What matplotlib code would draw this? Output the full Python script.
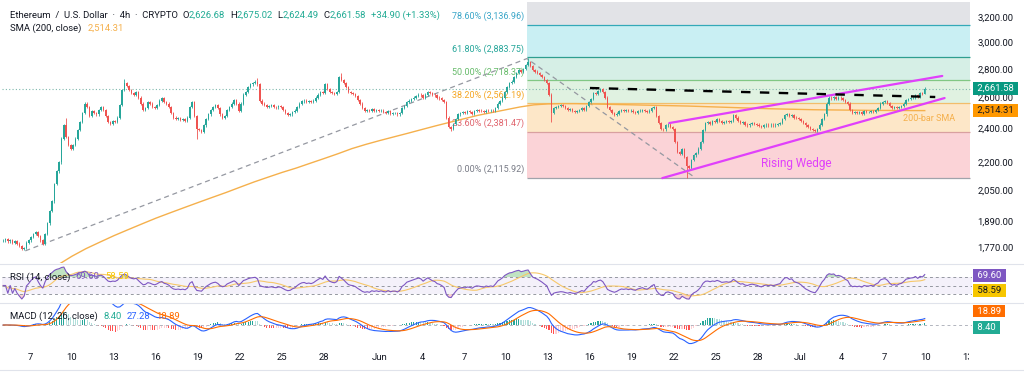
import numpy as np
import pandas as pd
import matplotlib
matplotlib.use("Agg")
from matplotlib import pyplot as plt
import matplotlib.dates as mdates
from matplotlib.lines import Line2D
from matplotlib.ticker import FuncFormatter, NullLocator
from matplotlib.transforms import Bbox, TransformedBbox

plt.rcParams["font.family"] = ["Roboto", "DejaVu Sans"]

# ======================= DATOS (velas de 4h) =======================

# cierres 4h, 6 por dia
closes_may = [
    1800, 1805, 1795, 1800, 1790, 1795,   # 5
    1785, 1775, 1760, 1765, 1790, 1800,   # 6
    1815, 1830, 1838, 1820, 1800, 1785,   # 7
    1830, 1880, 1940, 1990, 2080, 2150,   # 8
    2200, 2340, 2420, 2350, 2300, 2280,   # 9
    2300, 2340, 2390, 2440, 2500, 2560,   # 10
    2540, 2480, 2510, 2500, 2490, 2520,   # 11
    2540, 2520, 2480, 2440, 2430, 2445,   # 12
    2440, 2470, 2550, 2650, 2700, 2680,   # 13
    2650, 2630, 2620, 2640, 2600, 2560,   # 14
    2520, 2530, 2570, 2560, 2540, 2530,   # 15
    2550, 2580, 2597, 2570, 2560, 2540,   # 16
    2500, 2470, 2460, 2465, 2455, 2460,   # 17
    2450, 2470, 2540, 2570, 2480, 2400,   # 18
    2390, 2380, 2420, 2460, 2490, 2520,   # 19
    2540, 2550, 2530, 2490, 2470, 2480,   # 20
    2520, 2540, 2560, 2584, 2560, 2510,   # 21
    2560, 2620, 2640, 2670, 2690, 2700,   # 22
    2710, 2690, 2580, 2560, 2550, 2540,   # 23
    2545, 2550, 2540, 2535, 2545, 2540,   # 24
    2520, 2500, 2486, 2490, 2505, 2515,   # 25
    2540, 2560, 2575, 2580, 2570, 2575,   # 26
    2570, 2580, 2600, 2620, 2640, 2630,   # 27
    2690, 2660, 2640, 2630, 2625, 2640,   # 28
    2740, 2720, 2700, 2670, 2640, 2630,   # 29
    2625, 2610, 2584, 2560, 2530, 2515,   # 30
    2520, 2510, 2525, 2515, 2520, 2510,   # 31
]
closes_jun = [
    2515, 2505, 2500, 2510, 2495, 2500,   # 1
    2500, 2490, 2500, 2530, 2545, 2570,   # 2
    2580, 2590, 2600, 2610, 2620, 2615,   # 3
    2600, 2620, 2640, 2630, 2620, 2615,   # 4
    2600, 2595, 2585, 2570, 2470, 2410,   # 5
    2400, 2430, 2460, 2490, 2500, 2505,   # 6
    2500, 2510, 2505, 2495, 2510, 2518,   # 7
    2515, 2510, 2505, 2515, 2510, 2515,   # 8
    2510, 2530, 2560, 2577, 2600, 2640,   # 9
    2670, 2700, 2710, 2740, 2770, 2790,   # 10
    2780, 2800, 2830, 2850, 2820, 2790,   # 11
    2780, 2770, 2756, 2740, 2720, 2700,   # 12
    2620, 2500, 2530, 2540, 2545, 2550,   # 13
    2545, 2530, 2518, 2525, 2510, 2505,   # 14
    2510, 2520, 2530, 2520, 2545, 2570,   # 15
    2590, 2630, 2625, 2645, 2655, 2640,   # 16
    2600, 2540, 2518, 2500, 2486, 2495,   # 17
    2510, 2520, 2515, 2520, 2510, 2515,   # 18
    2505, 2500, 2510, 2515, 2520, 2510,   # 19
    2505, 2515, 2530, 2540, 2480, 2435,   # 20
    2400, 2395, 2420, 2425, 2410, 2400,   # 21
    2320, 2260, 2250, 2275, 2230, 2180,   # 22
    2170, 2215, 2240, 2255, 2280, 2320,   # 23
    2390, 2435, 2440, 2430, 2445, 2440,   # 24
    2460, 2450, 2435, 2440, 2445, 2440,   # 25
    2450, 2486, 2470, 2450, 2435, 2440,   # 26
    2425, 2420, 2430, 2435, 2430, 2425,   # 27
    2415, 2410, 2420, 2425, 2420, 2425,   # 28
    2420, 2425, 2430, 2435, 2460, 2486,   # 29
    2490, 2480, 2486, 2470, 2465, 2460,   # 30
]
closes_jul = [
    2450, 2435, 2420, 2410, 2398, 2390,   # 1
    2385, 2400, 2425, 2460, 2490, 2560,   # 2
    2600, 2595, 2605, 2590, 2600, 2595,   # 3
    2585, 2570, 2560, 2520, 2500, 2505,   # 4
    2500, 2505, 2495, 2510, 2505, 2505,   # 5
    2510, 2505, 2520, 2530, 2560, 2570,   # 6
    2575, 2565, 2545, 2530, 2535, 2530,   # 7
    2540, 2545, 2560, 2584, 2590, 2597,   # 8
    2600, 2615, 2605, 2630, 2626.68, 2661.58,   # 9
]

# mechas notables
wick_highs = {
    "2025-05-09 12:00": 2470, "2025-05-13 16:00": 2725, "2025-05-23 04:00": 2735,
    "2025-05-29 04:00": 2770, "2025-06-11 12:00": 2880, "2025-07-09 20:00": 2675.02,
}
wick_lows = {
    "2025-05-06 08:00": 1755, "2025-05-18 20:00": 2335, "2025-06-06 00:00": 2385,
    "2025-06-13 04:00": 2440, "2025-06-22 20:00": 2115.92, "2025-07-02 00:00": 2380,
    "2025-07-09 20:00": 2624.49,
}

# SMA 200 a las 00:00 de cada dia (5 may - 9 jul)
sma200_may = [1590, 1615, 1638, 1660, 1690, 1728, 1762, 1792, 1822, 1850, 1878, 1906, 1932, 1958,
              1984, 2010, 2036, 2064, 2092, 2118, 2144, 2168, 2195, 2222, 2250, 2280, 2305]
sma200_jun = [2328, 2350, 2372, 2395, 2418, 2440, 2462, 2484, 2502, 2520, 2538, 2552, 2558, 2560, 2560,
              2558, 2556, 2554, 2552, 2550, 2548, 2546, 2544, 2541, 2538, 2535, 2532, 2529, 2526, 2524]
sma200_jul = [2522, 2520, 2519, 2518, 2517, 2516, 2515.5, 2515, 2514.6]
sma200_last = 2514.31

# Fibonacci
fib_pct = [0.0, 23.6, 38.2, 50.0, 61.8, 78.6]
fib_price = [2115.92, 2381.47, 2562.19, 2718.37, 2883.75, 3136.96]
fib_top = 3360.0
fib_window = ("2025-06-11 12:00", "2025-07-13 04:00")

# dibujos
fib_trend = [("2025-05-06 16:00", 1752), ("2025-06-11 12:00", 2875), ("2025-06-23 12:00", 2115.92)]
wedge_upper = [("2025-06-21 16:00", 2435), ("2025-07-11 04:00", 2749)]
wedge_lower = [("2025-06-21 04:00", 2113), ("2025-07-11 08:00", 2597)]
resistance = [("2025-06-16 00:00", 2665), ("2025-07-10 16:00", 2604)]

price_ticks = [3200, 3000, 2800, 2600, 2400, 2200, 2050, 1890, 1770]
date_ticks = ["2025-05-07", "2025-05-10", "2025-05-13", "2025-05-16", "2025-05-19", "2025-05-22",
              "2025-05-25", "2025-05-28", "2025-06-01", "2025-06-04", "2025-06-07", "2025-06-10",
              "2025-06-13", "2025-06-16", "2025-06-19", "2025-06-22", "2025-06-25", "2025-06-28",
              "2025-07-01", "2025-07-04", "2025-07-07", "2025-07-10", "2025-07-13"]
date_labels = ["7", "10", "13", "16", "19", "22", "25", "28", "Jun", "4", "7", "10",
               "13", "16", "19", "22", "25", "28", "Jul", "4", "7", "10", "13"]

last_open, last_high, last_low, last_close = 2626.68, 2675.02, 2624.49, 2661.58
last_change, last_change_pct = 34.90, 1.33
rsi_last, rsi_ma_last = 69.60, 58.59
macd_hist_last, macd_last, macd_signal_last = 8.40, 27.28, 18.89

# ======================================= COLORES =======================================
UP, DOWN = "#26a69a", "#ef5350"
TXT = "#131722"
TEAL = "#22ab94"
SMA_C = "#f5b04c"
WEDGE = "#e040fb"
band_colors = ["#fbd3d7", "#fde7c8", "#e0f2e1", "#d6efe6", "#c9eff3", "#e2e3e7"]
line_colors = ["#a0a3ab", "#d9a0a0", "#f2bd6b", "#81c784", "#2e9e8f", "#33a9b8"]
label_colors = ["#787b86", "#e0636c", "#f5a623", "#66bb6a", "#26a69a", "#3aa6c8"]

W, H = 1024, 373
FS = 6.8


def rect(top_px, bot_px):
    return [2 / W, 1 - bot_px / H, 970 / W, (bot_px - top_px) / H]


def dn(s):
    return mdates.date2num(pd.Timestamp(s))


def cadena(ax, x, y, partes, size=FS):
    texto, color, _ = partes[0]
    prev = ax.text(x, y, texto, transform=ax.transAxes, color=color, fontsize=size,
                   va="center", ha="left")
    for texto, color, gap in partes[1:]:
        prev = ax.annotate(texto, xy=(1, 0.5), xycoords=prev, xytext=(gap, 0),
                           textcoords="offset points", color=color, fontsize=size,
                           va="center", ha="left")
    return prev


def etiqueta(ax, y, txt, fc, tc, dy=0):
    ax.annotate(f" {txt} ", xy=(1, y), xycoords=ax.get_yaxis_transform(), xytext=(2.2, dy),
                textcoords="offset points", ha="left", va="center", fontsize=FS, color=tc,
                bbox=dict(boxstyle="square,pad=0.2", fc=fc, ec="none"), annotation_clip=False)


# ======================================= SERIES ========================================
closes = np.array(closes_may + closes_jun + closes_jul, dtype=float)
times = pd.date_range("2025-05-05 00:00", periods=len(closes), freq="4h")
xc = mdates.date2num(times + pd.Timedelta(hours=2))
opens = np.r_[closes[0], closes[:-1]]
WICK = 0.003
highs = np.maximum(opens, closes) * (1 + WICK)
lows = np.minimum(opens, closes) * (1 - WICK)
for k, v in wick_highs.items():
    highs[times.get_loc(pd.Timestamp(k))] = v
for k, v in wick_lows.items():
    lows[times.get_loc(pd.Timestamp(k))] = v

sma_vals = sma200_may + sma200_jun + sma200_jul + [sma200_last]
sma_x = list(mdates.date2num(pd.date_range("2025-05-05", periods=len(sma_vals) - 1, freq="D")))
sma_x.append(xc[-1])

s = pd.Series(closes)
delta = s.diff().fillna(0)
avg_up = delta.clip(lower=0).ewm(alpha=1 / 14, adjust=False).mean()
avg_dn = (-delta.clip(upper=0)).ewm(alpha=1 / 14, adjust=False).mean()
rsi = (100 - 100 / (1 + avg_up / avg_dn.replace(0, np.nan))).fillna(50).values
rsi_ma = pd.Series(rsi).rolling(14, min_periods=1).mean().values

macd = (s.ewm(span=12, adjust=False).mean() - s.ewm(span=26, adjust=False).mean()).values
signal = pd.Series(macd).ewm(span=9, adjust=False).mean().values
hist = macd - signal
prev_hist = np.r_[0, hist[:-1]]
hist_colors = np.where(hist >= 0, np.where(hist >= prev_hist, "#26a69a", "#b2dfdb"),
                       np.where(hist < prev_hist, "#ff5252", "#ffcdd2"))

# ======================================= FIGURA ========================================
fig = plt.figure(figsize=(W / 100, H / 100), dpi=100, facecolor="white")
axp = fig.add_axes(rect(2, 263))
axr = fig.add_axes(rect(264, 302), sharex=axp)
axm = fig.add_axes(rect(304, 346), sharex=axp)

for ax in (axp, axr, axm):
    for sp in ax.spines.values():
        sp.set_visible(False)
    ax.set_facecolor("white")

x0, x1 = dn("2025-05-05 00:00"), dn("2025-07-13 07:00")
axp.set_xlim(x0, x1)

# --- precio ---
axp.set_yscale("log")
axp.set_ylim(1698, 3326)

fx0, fx1 = dn(fib_window[0]), dn(fib_window[1])
levels = fib_price + [fib_top]
for i in range(len(fib_price)):
    axp.fill_between([fx0, fx1], levels[i], levels[i + 1], color=band_colors[i], lw=0, zorder=0)
    axp.hlines(fib_price[i], fx0, fx1, color=line_colors[i], lw=0.9, zorder=1)
    axp.annotate(f"{fib_pct[i]:.2f}% ({fib_price[i]:,.2f})", xy=(fx0, fib_price[i]),
                 xytext=(-2, 2.5), textcoords="offset points", ha="right", va="bottom",
                 fontsize=6.5, color=label_colors[i], zorder=2)

tx = [dn(t) for t, _ in fib_trend]
ty = [p for _, p in fib_trend]
axp.plot(tx, ty, color="#9598a1", lw=0.9, dashes=(4, 3), zorder=2)

axp.axhline(last_close, color="#7fb8ad", lw=0.8, ls=(0, (1, 2)), zorder=2)
axp.plot(sma_x, sma_vals, color=SMA_C, lw=1.0, zorder=3)

cols = np.where(closes >= opens, UP, DOWN)
axp.vlines(xc, lows, highs, colors=cols, lw=0.6, zorder=4)
axp.bar(xc, np.maximum(np.abs(closes - opens), 2.0), bottom=np.minimum(opens, closes),
        width=0.1, color=cols, lw=0, zorder=5)

for linea in (wedge_upper, wedge_lower):
    axp.plot([dn(t) for t, _ in linea], [p for _, p in linea], color=WEDGE, lw=1.6,
             solid_capstyle="round", zorder=6)
axp.plot([dn(t) for t, _ in resistance], [p for _, p in resistance], color="black", lw=1.7,
         dashes=(4, 4), zorder=6)
axp.text(dn("2025-06-30 18:00"), 2195, "Rising Wedge", color=WEDGE, fontsize=8.5,
         ha="center", va="center", zorder=7)
axp.text(dn("2025-07-10 06:00"), 2462, "200-bar SMA", color=SMA_C, fontsize=6.5,
         ha="center", va="center", zorder=7)

axp.yaxis.tick_right()
axp.yaxis.set_minor_locator(NullLocator())
axp.set_yticks(price_ticks)
axp.yaxis.set_major_formatter(FuncFormatter(lambda v, p: f"{v:,.2f}"))
axp.tick_params(axis="y", length=0, pad=4, labelsize=FS, labelcolor=TXT)
axp.tick_params(axis="x", bottom=False, labelbottom=False)

etiqueta(axp, last_close, f"{last_close:,.2f}", "#089981", "white")
etiqueta(axp, sma200_last, f"{sma200_last:,.2f}", "#ff9800", TXT)

cadena(axp, 0.008, 0.950, [
    ("Ethereum  /  U.S. Dollar  ·  4h  ·  CRYPTO", TXT, 0),
    ("O", TXT, 3.5), (f"{last_open:,.2f}", TEAL, 0),
    ("H", TXT, 3.5), (f"{last_high:,.2f}", TEAL, 0),
    ("L", TXT, 3.5), (f"{last_low:,.2f}", TEAL, 0),
    ("C", TXT, 3.5), (f"{last_close:,.2f}", TEAL, 0),
    (f"+{last_change:.2f} (+{last_change_pct:.2f}%)", TEAL, 3.5),
])
cadena(axp, 0.008, 0.900, [("SMA (200, close)", TXT, 0), (f"{sma200_last:,.2f}", SMA_C, 5)])

# --- RSI ---
axr.set_ylim(11.2, 100.6)
axr.axhspan(30, 70, color="#7e57c2", alpha=0.08, lw=0)
for lv in (70, 50, 30):
    axr.axhline(lv, color="#9598a1", lw=0.7, dashes=(3, 3))
axr.fill_between(xc, rsi, 70, where=rsi > 70, color="#4caf50", alpha=0.35, lw=0, interpolate=True)
axr.fill_between(xc, rsi, 30, where=rsi < 30, color="#ef5350", alpha=0.25, lw=0, interpolate=True)
axr.plot(xc, rsi_ma, color="#f7c86a", lw=0.8)
axr.plot(xc, rsi, color="#7e57c2", lw=0.8)
axr.set_yticks([])
axr.tick_params(axis="x", bottom=False, labelbottom=False)
etiqueta(axr, rsi_last, f"{rsi_last:.2f}", "#7e57c2", "white", dy=1)
etiqueta(axr, rsi_ma_last, f"{rsi_ma_last:.2f}", "#f7c600", TXT, dy=-6)
cadena(axr, 0.008, 0.66, [("RSI (14, close)", TXT, 0), (f"{rsi_last:.2f}", "#7e57c2", 4),
                          (f"{rsi_ma_last:.2f}", "#f7c600", 4)])

# --- MACD ---
axm.set_ylim(-95, 95)
axm.axhline(0, color="#b2b5be", lw=0.7, dashes=(3, 3))
axm.bar(xc, hist, width=0.09, color=hist_colors, lw=0)
axm.plot(xc, macd, color="#2962ff", lw=0.8)
axm.plot(xc, signal, color="#ff6d00", lw=0.8)
axm.set_yticks([])
etiqueta(axm, macd_signal_last, f"{macd_signal_last:.2f}", "#ff6d00", "white", dy=7)
etiqueta(axm, macd_hist_last, f"{macd_hist_last:.2f}", "#22ab94", "white", dy=-3)
cadena(axm, 0.008, 0.714, [("MACD (12, 26, close)", TXT, 0),
                           (f"{macd_hist_last:.2f}", "#22ab94", 4),
                           (f"{macd_last:.2f}", "#2962ff", 4),
                           (f"{macd_signal_last:.2f}", "#ff6d00", 4)])

# fechas: todas menos la ultima como ticks; la ultima se dibuja recortada por el eje de precios
axm.set_xticks([dn(d) for d in date_ticks[:-1]])
axm.set_xticklabels(date_labels[:-1])
axm.tick_params(axis="x", length=0, pad=5, labelsize=FS, labelcolor=TXT)
ultima = axm.text(dn(date_ticks[-1]), -0.27, date_labels[-1], transform=axm.get_xaxis_transform(),
                  ha="center", va="center", fontsize=FS, color=TXT)
ultima.set_clip_on(True)
ultima.set_clip_box(TransformedBbox(Bbox([[0, 0], [969 / W, 1]]), fig.transFigure))

# separadores de paneles
for ypx in (263.5, 303, 370):
    fig.add_artist(Line2D([0, 1], [1 - ypx / H] * 2, transform=fig.transFigure,
                          color="#e0e3eb", lw=0.8))

fig.savefig("out.png", dpi=100, facecolor="white")
